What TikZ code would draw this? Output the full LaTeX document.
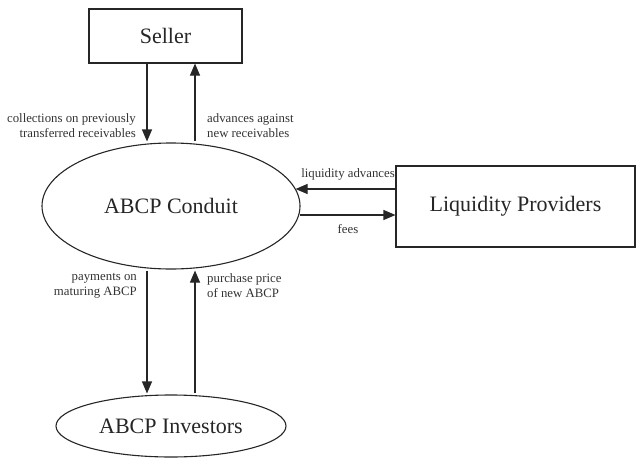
\documentclass[tikz,border=0pt]{standalone}
\usepackage{fontspec}
\setmainfont{Liberation Serif}
\usetikzlibrary{shapes.geometric,arrows.meta}
\begin{document}
\begin{tikzpicture}[x=1pt,y=-1pt,
  ln/.style={draw=black!85,line width=1.1pt},
  arr/.style={ln,-{Triangle[width=10pt,length=12pt]}},
  big/.style={font=\fontsize{22}{26}\selectfont,text=black!85},
  small/.style={font=\fontsize{12.8}{15}\selectfont,text=black!80,inner sep=0pt}]
\useasboundingbox (0,0) rectangle (640,458);
\node[ln,big,rectangle,minimum width=153pt,minimum height=54pt,inner sep=0pt] (seller) at (165.5,36) {Seller};
\node[ln,big,ellipse,minimum width=258pt,minimum height=126pt,inner sep=0pt] (conduit) at (171,206) {ABCP Conduit};
\node[ln,big,rectangle,minimum width=239pt,minimum height=81pt,inner sep=0pt] (lp) at (515.5,206.5) {Liquidity Providers};
\node[ln,big,ellipse,minimum width=230pt,minimum height=62pt,inner sep=0pt] (inv) at (171,426) {ABCP Investors};
\coordinate (xl) at (147,0);
\coordinate (xr) at (195,0);
\coordinate (ya) at (0,189);
\coordinate (yf) at (0,215);
% seller <-> conduit
\draw[arr] (seller.south -| xl) -- ([yshift=1pt]conduit.north -| xl);
\draw[arr] ([yshift=1pt]conduit.north -| xr) -- (seller.south -| xr);
% conduit <-> investors
\draw[arr] ([yshift=-1pt]conduit.south -| xl) -- ([yshift=1pt]inv.north -| xl);
\draw[arr] ([yshift=1pt]inv.north -| xr) -- ([yshift=-1pt]conduit.south -| xr);
% conduit <-> liquidity providers
\draw[arr] (lp.west |- ya) -- ([xshift=-5pt]conduit.east |- ya);
\draw[arr] ([xshift=-1pt]conduit.east |- yf) -- (lp.west |- yf);
% labels
\node[small,anchor=east,align=right] (l1) at (136,125.5) {collections on previously\\transferred receivables};
\node[small,anchor=west,align=left] (l2) at (207,125.5) {advances against\\new receivables};
\node[small,anchor=east,align=right] (l3) at (137,286) {payments on\\maturing ABCP};
\node[small,anchor=west,align=left] (l4) at (207,286) {purchase price\\of new ABCP};
\node[small] (l5) at (348,174) {liquidity advances};
\node[small] (l6) at (348,229) {fees};
\end{tikzpicture}
\end{document}
